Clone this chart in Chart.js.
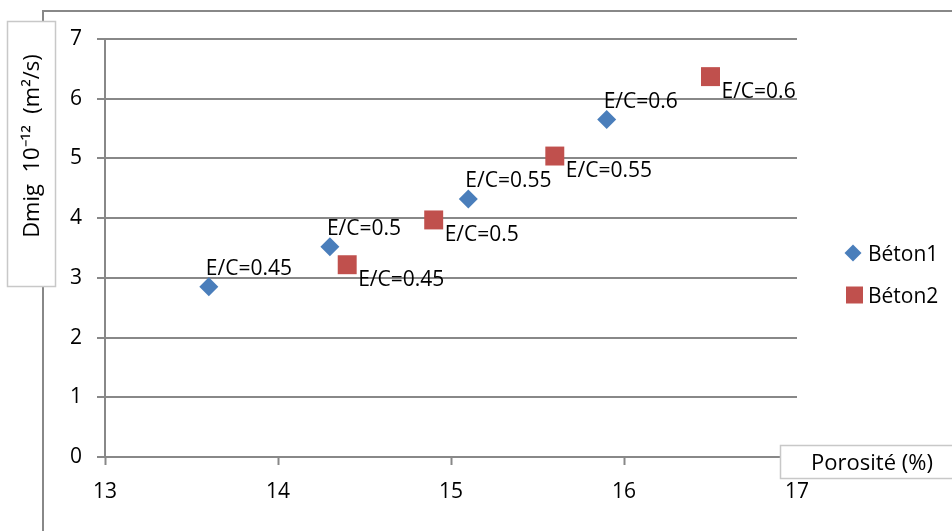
<!DOCTYPE html>
<html>
<head>
<meta charset="utf-8">
<script src="https://cdn.jsdelivr.net/npm/chart.js@4"></script>
<style>
  html, body { margin: 0; padding: 0; background: #fff; }
  #wrap { width: 952px; height: 531px; position: relative; }
</style>
</head>
<body>
<div id="wrap"><canvas id="c" width="952" height="531"></canvas></div>
<script>
// ---- Data ----
const seriesNames = ['Béton1', 'Béton2'];
const beton1X = [13.6, 14.3, 15.1, 15.9];
const beton1Y = [2.85, 3.52, 4.32, 5.65];
const beton1Labels = ['E/C=0.45', 'E/C=0.5', 'E/C=0.55', 'E/C=0.6'];
const beton2X = [14.4, 14.9, 15.6, 16.5];
const beton2Y = [3.22, 3.97, 5.04, 6.37];
const beton2Labels = ['E/C=0.45', 'E/C=0.5', 'E/C=0.55', 'E/C=0.6'];
const xTitle = 'Porosité (%)';
const yTitle = 'Dmig  10⁻¹²  (m²/s)';

const FONT = '"Open Sans", "Liberation Sans", sans-serif';
const BLUE = '#4a7ebb';
const RED = '#c0504d';
const GRID = '#888888';

function pts(xs, ys) { return xs.map((x, i) => ({ x: x, y: ys[i] })); }

const decorPlugin = {
  id: 'decor',
  beforeDraw(chart) {
    const ctx = chart.ctx;
    ctx.save();
    ctx.fillStyle = '#fff';
    ctx.fillRect(0, 0, chart.width, chart.height);
    // outer chart frame
    ctx.strokeStyle = GRID;
    ctx.lineWidth = 2;
    ctx.beginPath();
    ctx.moveTo(43, 531);
    ctx.lineTo(43, 11);
    ctx.lineTo(952, 11);
    ctx.stroke();
    ctx.restore();
  },
  afterDraw(chart) {
    const ctx = chart.ctx;
    ctx.save();
    // data labels
    ctx.font = '21px ' + FONT;
    ctx.fillStyle = '#000';
    ctx.textBaseline = 'alphabetic';
    ctx.textAlign = 'left';
    const offs = [[-3, -12], [11, 21]];
    const labs = [beton1Labels, beton2Labels];
    chart.data.datasets.forEach((ds, di) => {
      const meta = chart.getDatasetMeta(di);
      meta.data.forEach((el, i) => {
        ctx.fillText(labs[di][i], el.x + offs[di][0], el.y + offs[di][1]);
      });
    });

    // Y title box
    ctx.fillStyle = '#fff';
    ctx.fillRect(7, 21, 49, 266);
    ctx.strokeStyle = '#c8c8c8';
    ctx.lineWidth = 1.5;
    ctx.strokeRect(7.5, 21.5, 48, 265);
    ctx.save();
    ctx.translate(39, 146);
    ctx.rotate(-Math.PI / 2);
    ctx.font = '22px ' + FONT;
    ctx.fillStyle = '#000';
    ctx.textAlign = 'center';
    ctx.textBaseline = 'alphabetic';
    ctx.fillText(yTitle, 0, 0);
    ctx.restore();

    // X title box
    ctx.fillStyle = '#fff';
    ctx.fillRect(780, 445, 180, 34);
    ctx.strokeStyle = '#c8c8c8';
    ctx.lineWidth = 1.5;
    ctx.strokeRect(780.5, 445.5, 180, 33);
    ctx.font = '22px ' + FONT;
    ctx.fillStyle = '#000';
    ctx.textAlign = 'center';
    ctx.textBaseline = 'alphabetic';
    ctx.fillText(xTitle, 872, 470);

    // legend
    const markers = [
      { y: 253, color: BLUE, type: 'diamond' },
      { y: 295, color: RED, type: 'square' }
    ];
    markers.forEach((m, i) => {
      ctx.fillStyle = m.color;
      ctx.beginPath();
      if (m.type === 'diamond') {
        ctx.moveTo(853 - 8.5, m.y);
        ctx.lineTo(853, m.y - 8.5);
        ctx.lineTo(853 + 8.5, m.y);
        ctx.lineTo(853, m.y + 8.5);
        ctx.closePath();
      } else {
        ctx.rect(846, m.y - 8.5, 17, 17);
      }
      ctx.fill();
      ctx.fillStyle = '#000';
      ctx.font = '21px ' + FONT;
      ctx.textAlign = 'left';
      ctx.fillText(seriesNames[i], 868, m.y + 7.5);
    });
    ctx.restore();
  }
};

new Chart(document.getElementById('c'), {
  type: 'scatter',
  data: {
    datasets: [
      {
        label: seriesNames[0],
        data: pts(beton1X, beton1Y),
        pointStyle: 'rectRot',
        pointRadius: 9.5,
        pointHoverRadius: 9.5,
        backgroundColor: BLUE,
        borderColor: BLUE,
        borderWidth: 0
      },
      {
        label: seriesNames[1],
        data: pts(beton2X, beton2Y),
        pointStyle: 'rect',
        pointRadius: 13.4,
        pointHoverRadius: 13.4,
        backgroundColor: RED,
        borderColor: RED,
        borderWidth: 0
      }
    ]
  },
  options: {
    responsive: false,
    animation: false,
    events: [],
    layout: { padding: { left: 0, right: 155, top: 39, bottom: 0 } },
    plugins: {
      legend: { display: false },
      tooltip: { enabled: false }
    },
    scales: {
      x: {
        type: 'linear',
        min: 13, max: 17,
        afterFit(s) { s.height = 74; },
        ticks: {
          stepSize: 1,
          color: '#000',
          padding: 14,
          font: { family: FONT, size: 21 }
        },
        grid: {
          drawOnChartArea: false,
          drawTicks: true,
          tickLength: 8,
          tickColor: GRID,
          tickWidth: 2,
          color: GRID
        },
        border: { display: true, color: GRID, width: 2 }
      },
      y: {
        type: 'linear',
        min: 0, max: 7,
        afterFit(s) { s.width = 105; },
        ticks: {
          stepSize: 1,
          color: '#000',
          padding: 15,
          font: { family: FONT, size: 21 }
        },
        grid: {
          drawOnChartArea: true,
          drawTicks: true,
          tickLength: 8,
          color: GRID,
          lineWidth: 2,
          tickColor: GRID,
          tickWidth: 2
        },
        border: { display: true, color: GRID, width: 2 }
      }
    }
  },
  plugins: [decorPlugin]
});
</script>
</body>
</html>
